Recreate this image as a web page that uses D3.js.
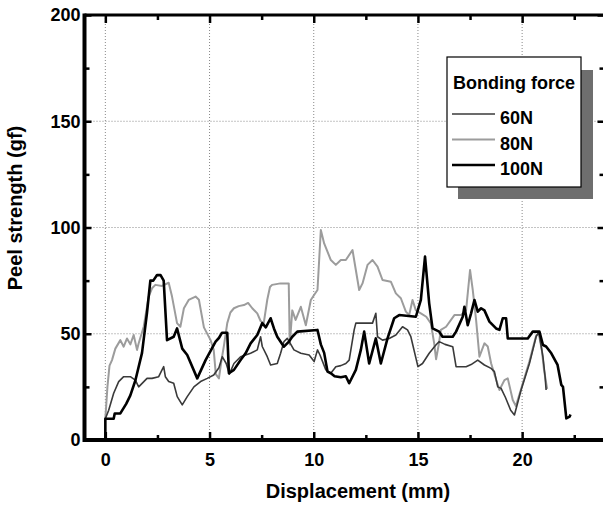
<!DOCTYPE html>
<html>
<head>
<meta charset="utf-8">
<script src="https://cdn.jsdelivr.net/npm/d3@7"></script>
<style>
  body { margin: 0; background: #fff; }
  text { font-family: "Liberation Sans", Arial, sans-serif; font-weight: bold; }
</style>
</head>
<body>
<div id="chart"></div>
<script>
// data: [displacement (mm), peel strength (gf)]
const series60 = [[0,10],[0.16,14],[0.4,22],[0.64,27.5],[0.88,29.8],[1.2,29.8],[1.44,28.2],[1.6,25],[1.8,27],[2.0,29],
  [2.24,29],[2.56,29.8],[2.72,33],[2.8,34.5],[2.88,29.8],[3.04,27.5],[3.28,26.7],[3.45,20.4],[3.69,16.5],[3.93,20.4],
  [4.25,25],[4.57,27.5],[4.89,29],[5.2,30.6],[5.45,34],[5.61,39.2],[5.8,36],[5.95,31],[6.17,36],[6.49,39.2],
  [6.97,40.8],[7.29,42.4],[7.45,48.6],[7.53,44],[7.77,39.2],[7.93,35.3],[8.25,36],[8.41,40.8],[8.57,46.3],[8.73,47.8],
  [8.9,45],[9.05,42.4],[9.38,40.8],[9.78,40],[10.02,36.9],[10.18,42.4],[10.3,40],[10.58,33],[10.82,31.4],[11.06,34.5],
  [11.3,35],[11.54,36],[11.7,37.6],[11.94,51.8],[12.02,55],[12.82,55],[12.98,59.6],[13.06,48.6],[13.3,47],[13.62,47.8],
  [13.94,49.4],[14.26,53.3],[14.5,51.8],[14.66,48.6],[15.0,34.5],[15.22,36],[15.54,40.8],[15.86,44.7],[16.02,46.3],[16.3,45],
  [16.67,43.9],[16.83,34.5],[17.31,34.5],[17.55,35.5],[17.87,37.6],[18.19,35.3],[18.51,33.7],[18.67,32.2],[18.83,25],[18.99,24.3],
  [19.2,20],[19.45,14],[19.63,11.8],[19.95,23.5],[20.35,36],[20.67,48.6],[20.8,51],[21.0,39],[21.1,30],[21.15,23.5]];

const series80 = [[0,10],[0.1,25],[0.2,35],[0.32,37.6],[0.48,43],[0.6,45],[0.72,47],[0.88,43.9],[1.04,47.8],[1.2,45],
  [1.36,49.4],[1.52,42.4],[1.6,45.5],[1.84,53.3],[2.08,67.5],[2.24,71.4],[2.4,73],[2.72,72.5],[3.04,74],[3.2,67.5],
  [3.44,55],[3.6,53.3],[3.77,62],[4.0,65.9],[4.33,67.5],[4.49,66],[4.73,53],[5.05,47],[5.2,42.4],[5.3,31],
  [5.45,29],[5.55,36],[5.7,45],[5.85,55],[6.0,60],[6.17,62],[6.4,63],[6.65,63.5],[6.85,64.5],[7.05,62],
  [7.29,59.6],[7.45,56],[7.6,55],[7.77,66],[7.9,72],[8.0,73],[8.4,73.7],[8.8,73.7],[8.85,45],[8.97,61],
  [9.13,56.5],[9.38,62.7],[9.62,54],[9.86,65.9],[10.0,68],[10.18,70.6],[10.34,98.8],[10.5,92.5],[10.82,84.7],[11.06,82.4],
  [11.3,84.7],[11.54,84.7],[11.86,89.4],[12.02,80],[12.18,70.6],[12.34,73.7],[12.58,82.4],[12.82,84.7],[13.06,81.6],[13.3,75.3],
  [13.7,74.5],[13.94,69],[14.18,66.7],[14.42,60.4],[14.58,58.8],[14.74,65.9],[14.9,61],[15.14,59.6],[15.4,58],[15.62,54.9],
  [15.78,45.5],[15.87,38],[16.0,45],[16.1,51.8],[16.35,53.3],[16.75,58.8],[17.07,58.8],[17.31,61],[17.5,80],[17.63,70.6],
  [17.79,56.5],[17.95,39.2],[18.19,45.5],[18.35,44],[18.51,36.1],[18.7,30],[18.91,23.5],[19.15,28.2],[19.31,29],[19.55,18.8],
  [19.7,16],[19.95,24],[20.35,37],[20.67,49],[20.8,50],[20.95,42],[21.05,33],[21.2,24]];

const series100 = [[0,0],[0,10],[0.4,10],[0.45,12.5],[0.72,12.5],[1.0,17],[1.2,21],[1.44,28],[1.76,41],[2.0,60],
  [2.16,75],[2.3,75],[2.48,77.6],[2.65,77.6],[2.8,75],[2.96,47],[3.28,48.6],[3.44,52.5],[3.69,43],[3.93,40],
  [4.41,29],[4.81,37.6],[5.29,46.3],[5.45,48],[5.6,50.5],[5.85,50.5],[5.93,31.4],[6.17,33],[6.49,37.6],[6.73,40.8],
  [6.97,45.5],[7.29,49.4],[7.53,55],[7.7,53],[7.93,57.3],[8.09,52.5],[8.25,48.6],[8.57,43.9],[8.81,46.3],[8.97,48.6],
  [9.21,51],[10.18,51.8],[10.34,45],[10.5,41],[10.66,32.2],[10.82,31.4],[11.0,30],[11.3,29.5],[11.54,30],[11.7,26.7],
  [12.02,33],[12.26,42.4],[12.42,51],[12.66,36],[12.98,47.8],[13.22,36],[13.54,47.8],[13.86,57.3],[14.1,58.8],[14.9,58],
  [15.14,65.9],[15.34,86.3],[15.54,64.3],[15.7,52.5],[16.02,51],[16.18,48.6],[16.67,48.6],[16.83,51],[17.15,58],[17.23,62.7],
  [17.39,54],[17.55,59.6],[17.71,65.9],[17.87,60.4],[18.03,62],[18.19,61],[18.43,55.7],[18.75,52.5],[18.91,51.8],[19.07,57.3],
  [19.23,57.3],[19.31,47.8],[20.27,47.8],[20.51,51],[20.83,51],[21.0,44.7],[21.15,44],[21.4,40.8],[21.7,35.3],[21.88,25.9],
  [21.96,25],[22.12,10.2],[22.28,11],[22.32,12]];

const legendLabels = ["60N", "80N", "100N"];
const xMajor = [0, 5, 10, 15, 20];
const xMinor = [2.5, 7.5, 12.5, 17.5, 22.5];
const yMajor = [0, 50, 100, 150, 200];
const yMinor = [25, 75, 125, 175];

const W = 603, H = 506;
const pLeft = 84.5, pRight = 605.5, pTop = 15, pBottom = 440;

const svg = d3.select("#chart").append("svg")
  .attr("width", W).attr("height", H);
svg.append("rect").attr("width", W).attr("height", H).attr("fill", "#fff");

const x = d3.scaleLinear().domain([-1, 24]).range([pLeft, pRight]);
const y = d3.scaleLinear().domain([0, 200]).range([pBottom, pTop]);

// dotted grid
svg.append("g").selectAll("line").data(xMajor).join("line")
  .attr("x1", d => x(d)).attr("x2", d => x(d))
  .attr("y1", pTop).attr("y2", pBottom)
  .attr("stroke", "#888").attr("stroke-width", 1).attr("stroke-dasharray", "1,2");
svg.append("g").selectAll("line").data(yMajor.slice(1, -1)).join("line")
  .attr("x1", pLeft).attr("x2", pRight)
  .attr("y1", d => y(d)).attr("y2", d => y(d))
  .attr("stroke", "#888").attr("stroke-width", 1).attr("stroke-dasharray", "1,2");

// curves
const line = d3.line().x(d => x(d[0])).y(d => y(d[1]));
const styles = [
  { data: series80, color: "#9c9c9c", w: 2 },
  { data: series60, color: "#3a3a3a", w: 1.6 },
  { data: series100, color: "#000", w: 2.6 }
];
styles.forEach(s => {
  svg.append("path").datum(s.data)
    .attr("d", line)
    .attr("fill", "none")
    .attr("stroke", s.color)
    .attr("stroke-width", s.w)
    .attr("stroke-linejoin", "round");
});

// axes, ticks inward
function styleAxis(g) {
  g.select(".domain").remove();
  g.selectAll(".tick line").attr("stroke", "#000").attr("stroke-width", 2.5);
  g.selectAll("text").attr("font-size", 18).attr("fill", "#000")
    .attr("font-family", '"Liberation Sans", Arial, sans-serif').attr("font-weight", "bold");
}

svg.append("g").attr("transform", `translate(0,${pBottom})`)
  .call(d3.axisBottom(x).tickValues(xMajor).tickSizeInner(-8).tickSizeOuter(0).tickPadding(13))
  .call(styleAxis);
svg.append("g").attr("transform", `translate(0,${pBottom})`)
  .call(d3.axisBottom(x).tickValues(xMinor).tickSizeInner(-5).tickSizeOuter(0).tickFormat(""))
  .call(styleAxis);
svg.append("g").attr("transform", `translate(0,${pTop})`)
  .call(d3.axisTop(x).tickValues(xMajor).tickSizeInner(-8).tickSizeOuter(0).tickFormat(""))
  .call(styleAxis);
svg.append("g").attr("transform", `translate(0,${pTop})`)
  .call(d3.axisTop(x).tickValues(xMinor).tickSizeInner(-5).tickSizeOuter(0).tickFormat(""))
  .call(styleAxis);

svg.append("g").attr("transform", `translate(${pLeft},0)`)
  .call(d3.axisLeft(y).tickValues(yMajor).tickSizeInner(-7).tickSizeOuter(0).tickPadding(4))
  .call(styleAxis);
svg.append("g").attr("transform", `translate(${pLeft},0)`)
  .call(d3.axisLeft(y).tickValues(yMinor).tickSizeInner(-5).tickSizeOuter(0).tickFormat(""))
  .call(styleAxis);
svg.append("g").attr("transform", `translate(${pRight},0)`)
  .call(d3.axisRight(y).tickValues(yMajor).tickSizeInner(-8).tickSizeOuter(0).tickFormat(""))
  .call(styleAxis);
svg.append("g").attr("transform", `translate(${pRight},0)`)
  .call(d3.axisRight(y).tickValues(yMinor).tickSizeInner(-6).tickSizeOuter(0).tickFormat(""))
  .call(styleAxis);

// frame
svg.append("line").attr("x1", pLeft).attr("x2", pLeft).attr("y1", pTop - 1.5).attr("y2", pBottom + 2)
  .attr("stroke", "#000").attr("stroke-width", 4);
svg.append("line").attr("x1", pLeft).attr("x2", pRight).attr("y1", pBottom).attr("y2", pBottom)
  .attr("stroke", "#000").attr("stroke-width", 4);
svg.append("line").attr("x1", pLeft).attr("x2", pRight).attr("y1", pTop).attr("y2", pTop)
  .attr("stroke", "#000").attr("stroke-width", 3);
svg.append("line").attr("x1", pRight).attr("x2", pRight).attr("y1", pTop).attr("y2", pBottom)
  .attr("stroke", "#000").attr("stroke-width", 3);

// axis titles
svg.append("text").attr("x", 358).attr("y", 498)
  .attr("text-anchor", "middle").attr("font-size", 20).text("Displacement (mm)");
svg.append("text").attr("transform", "translate(22,208) rotate(-90)")
  .attr("text-anchor", "middle").attr("font-size", 20).text("Peel strength (gf)");

// legend with drop shadow
const lg = svg.append("g");
lg.append("rect").attr("x", 458).attr("y", 70).attr("width", 135).attr("height", 129).attr("fill", "#6e6e6e");
lg.append("rect").attr("x", 447).attr("y", 57).attr("width", 134).attr("height", 130)
  .attr("fill", "#fff").attr("stroke", "#000").attr("stroke-width", 1.2);
lg.append("text").attr("x", 453).attr("y", 89).attr("font-size", 18).text("Bonding force");
legendLabels.forEach((name, i) => {
  const s = styles[[1, 0, 2][i]];
  const ly = 114 + i * 25.5;
  lg.append("line").attr("x1", 452).attr("x2", 495).attr("y1", ly).attr("y2", ly)
    .attr("stroke", s.color).attr("stroke-width", s.w);
  lg.append("text").attr("x", 500).attr("y", ly + 10).attr("font-size", 18).text(name);
});
</script>
</body>
</html>
